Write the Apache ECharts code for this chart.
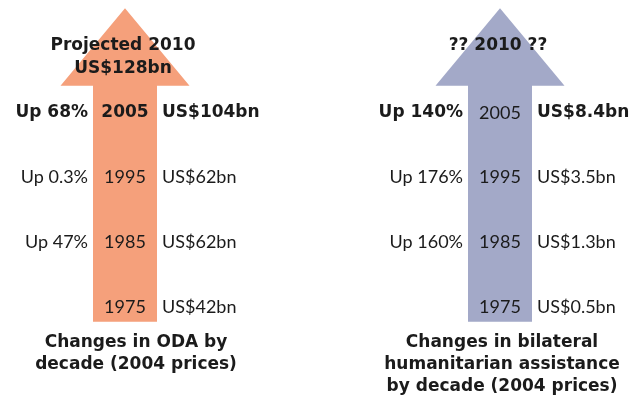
<!DOCTYPE html>
<html><head><meta charset="utf-8">
<script src="https://cdn.jsdelivr.net/npm/echarts@6/dist/echarts.min.js"></script>
<style>html,body{margin:0;padding:0;background:#fff}#c{width:636px;height:402px}</style>
</head><body><div id="c"></div>
<script>
// ---- data ----
const decades = [1975, 1985, 1995, 2005];
const odaValues = [42, 62, 62, 104];          // US$ bn, 2004 prices
const odaChange = [null, 47, 0.3, 68];        // % change vs previous decade
const humValues = [0.5, 1.3, 3.5, 8.4];       // US$ bn, 2004 prices
const humChange = [null, 160, 176, 140];      // % change vs previous decade
const projectionYear = 2010;
const odaProjected = 128;                     // US$ bn
const humProjected = null;                    // unknown ("??")
const panelNames = ['ODA', 'Bilateral humanitarian assistance'];
const panelTitles = [
  'Changes in ODA by\ndecade (2004 prices)',
  'Changes in bilateral\nhumanitarian assistance\nby decade (2004 prices)'
];
const arrowSpan = [1972.7, 2009.2, 2021.2];   // shaft start, head base, tip (years)

// ---- styles ----
const FONT_REG = 'Lato, "DejaVu Sans", sans-serif';
const FONT_BOLD = '"DejaVu Sans", sans-serif';
const INK = '#1b1b1b';
const arrowColors = ['#F5A07B', '#A3A9C8'];
const panelValues = [odaValues, humValues];
const panelChanges = [odaChange, humChange];
const yearBoldLast = [true, false];

function fmtVal(v) { return 'US$' + v + 'bn'; }
function fmtChg(c) { return 'Up ' + c + '%'; }
function projText(p) {
  const v = p === 0 ? odaProjected : humProjected;
  return v == null ? '?? ' + projectionYear + ' ??' : 'Projected ' + projectionYear + '\n' + fmtVal(v);
}

const arrowData = panelNames.map((n, p) => [p, arrowSpan[0], arrowSpan[1], arrowSpan[2]]);
const labelData = [];
panelNames.forEach((n, p) => decades.forEach((y, i) => labelData.push([p, y, i])));
const projData = panelNames.map((n, p) => [p, projectionYear]);

function txt(x, y, text, align, bold) {
  return {
    type: 'text',
    style: {
      x: x, y: y, text: text, align: align, verticalAlign: 'middle',
      fontFamily: bold ? FONT_BOLD : FONT_REG, fontSize: bold ? 17 : 18,
      fontWeight: bold ? 'bold' : 'normal', fill: INK
    }
  };
}

const chart = echarts.init(document.getElementById('c'), null, { renderer: 'canvas' });
chart.setOption({
  animation: false,
  backgroundColor: '#fff',
  grid: { left: 125, right: 136, top: 3.06, bottom: 62.7 },
  xAxis: { type: 'value', min: 0, max: 1, show: false },
  yAxis: { type: 'value', min: 1970, max: 2022, show: false },
  graphic: panelTitles.map((t, p) => ({
    type: 'text',
    x: p === 0 ? 136 : 502,
    y: 332,
    style: {
      text: t, fontFamily: FONT_BOLD, fontSize: 17, fontWeight: 'bold', fill: INK,
      lineHeight: 22, align: 'center', verticalAlign: 'top'
    }
  })),
  series: [
    {
      type: 'custom', data: arrowData, silent: true,
      renderItem: function (params, api) {
        const p = api.value(0);
        const b = api.coord([p, api.value(1)]);
        const h = api.coord([p, api.value(2)]);
        const t = api.coord([p, api.value(3)]);
        const sw = 32, hw = 64.5;
        return {
          type: 'polygon',
          shape: { points: [
            [b[0] - sw, b[1]], [b[0] - sw, h[1]], [b[0] - hw, h[1]], [t[0], t[1]],
            [b[0] + hw, h[1]], [b[0] + sw, h[1]], [b[0] + sw, b[1]]
          ] },
          style: { fill: arrowColors[p] }
        };
      }
    },
    {
      type: 'custom', data: labelData, silent: true,
      renderItem: function (params, api) {
        const p = api.value(0), yr = api.value(1), i = api.value(2);
        const pt = api.coord([p, yr]);
        const last = i === decades.length - 1;
        const kids = [txt(pt[0], pt[1], String(yr), 'center', last && yearBoldLast[p])];
        kids.push(txt(pt[0] + 37, pt[1], fmtVal(panelValues[p][i]), 'left', last));
        const c = panelChanges[p][i];
        if (c != null) kids.push(txt(pt[0] - 37, pt[1], fmtChg(c), 'right', last));
        return { type: 'group', children: kids };
      }
    },
    {
      type: 'custom', data: projData, silent: true,
      renderItem: function (params, api) {
        const p = api.value(0);
        const pt = api.coord([p, api.value(1)]);
        return {
          type: 'text',
          style: {
            x: pt[0] - 2, y: pt[1] - 47, text: projText(p), align: 'center', verticalAlign: 'top',
            fontFamily: FONT_BOLD, fontSize: 17, fontWeight: 'bold', fill: INK, lineHeight: 23
          }
        };
      }
    }
  ]
});
</script>
</body></html>
